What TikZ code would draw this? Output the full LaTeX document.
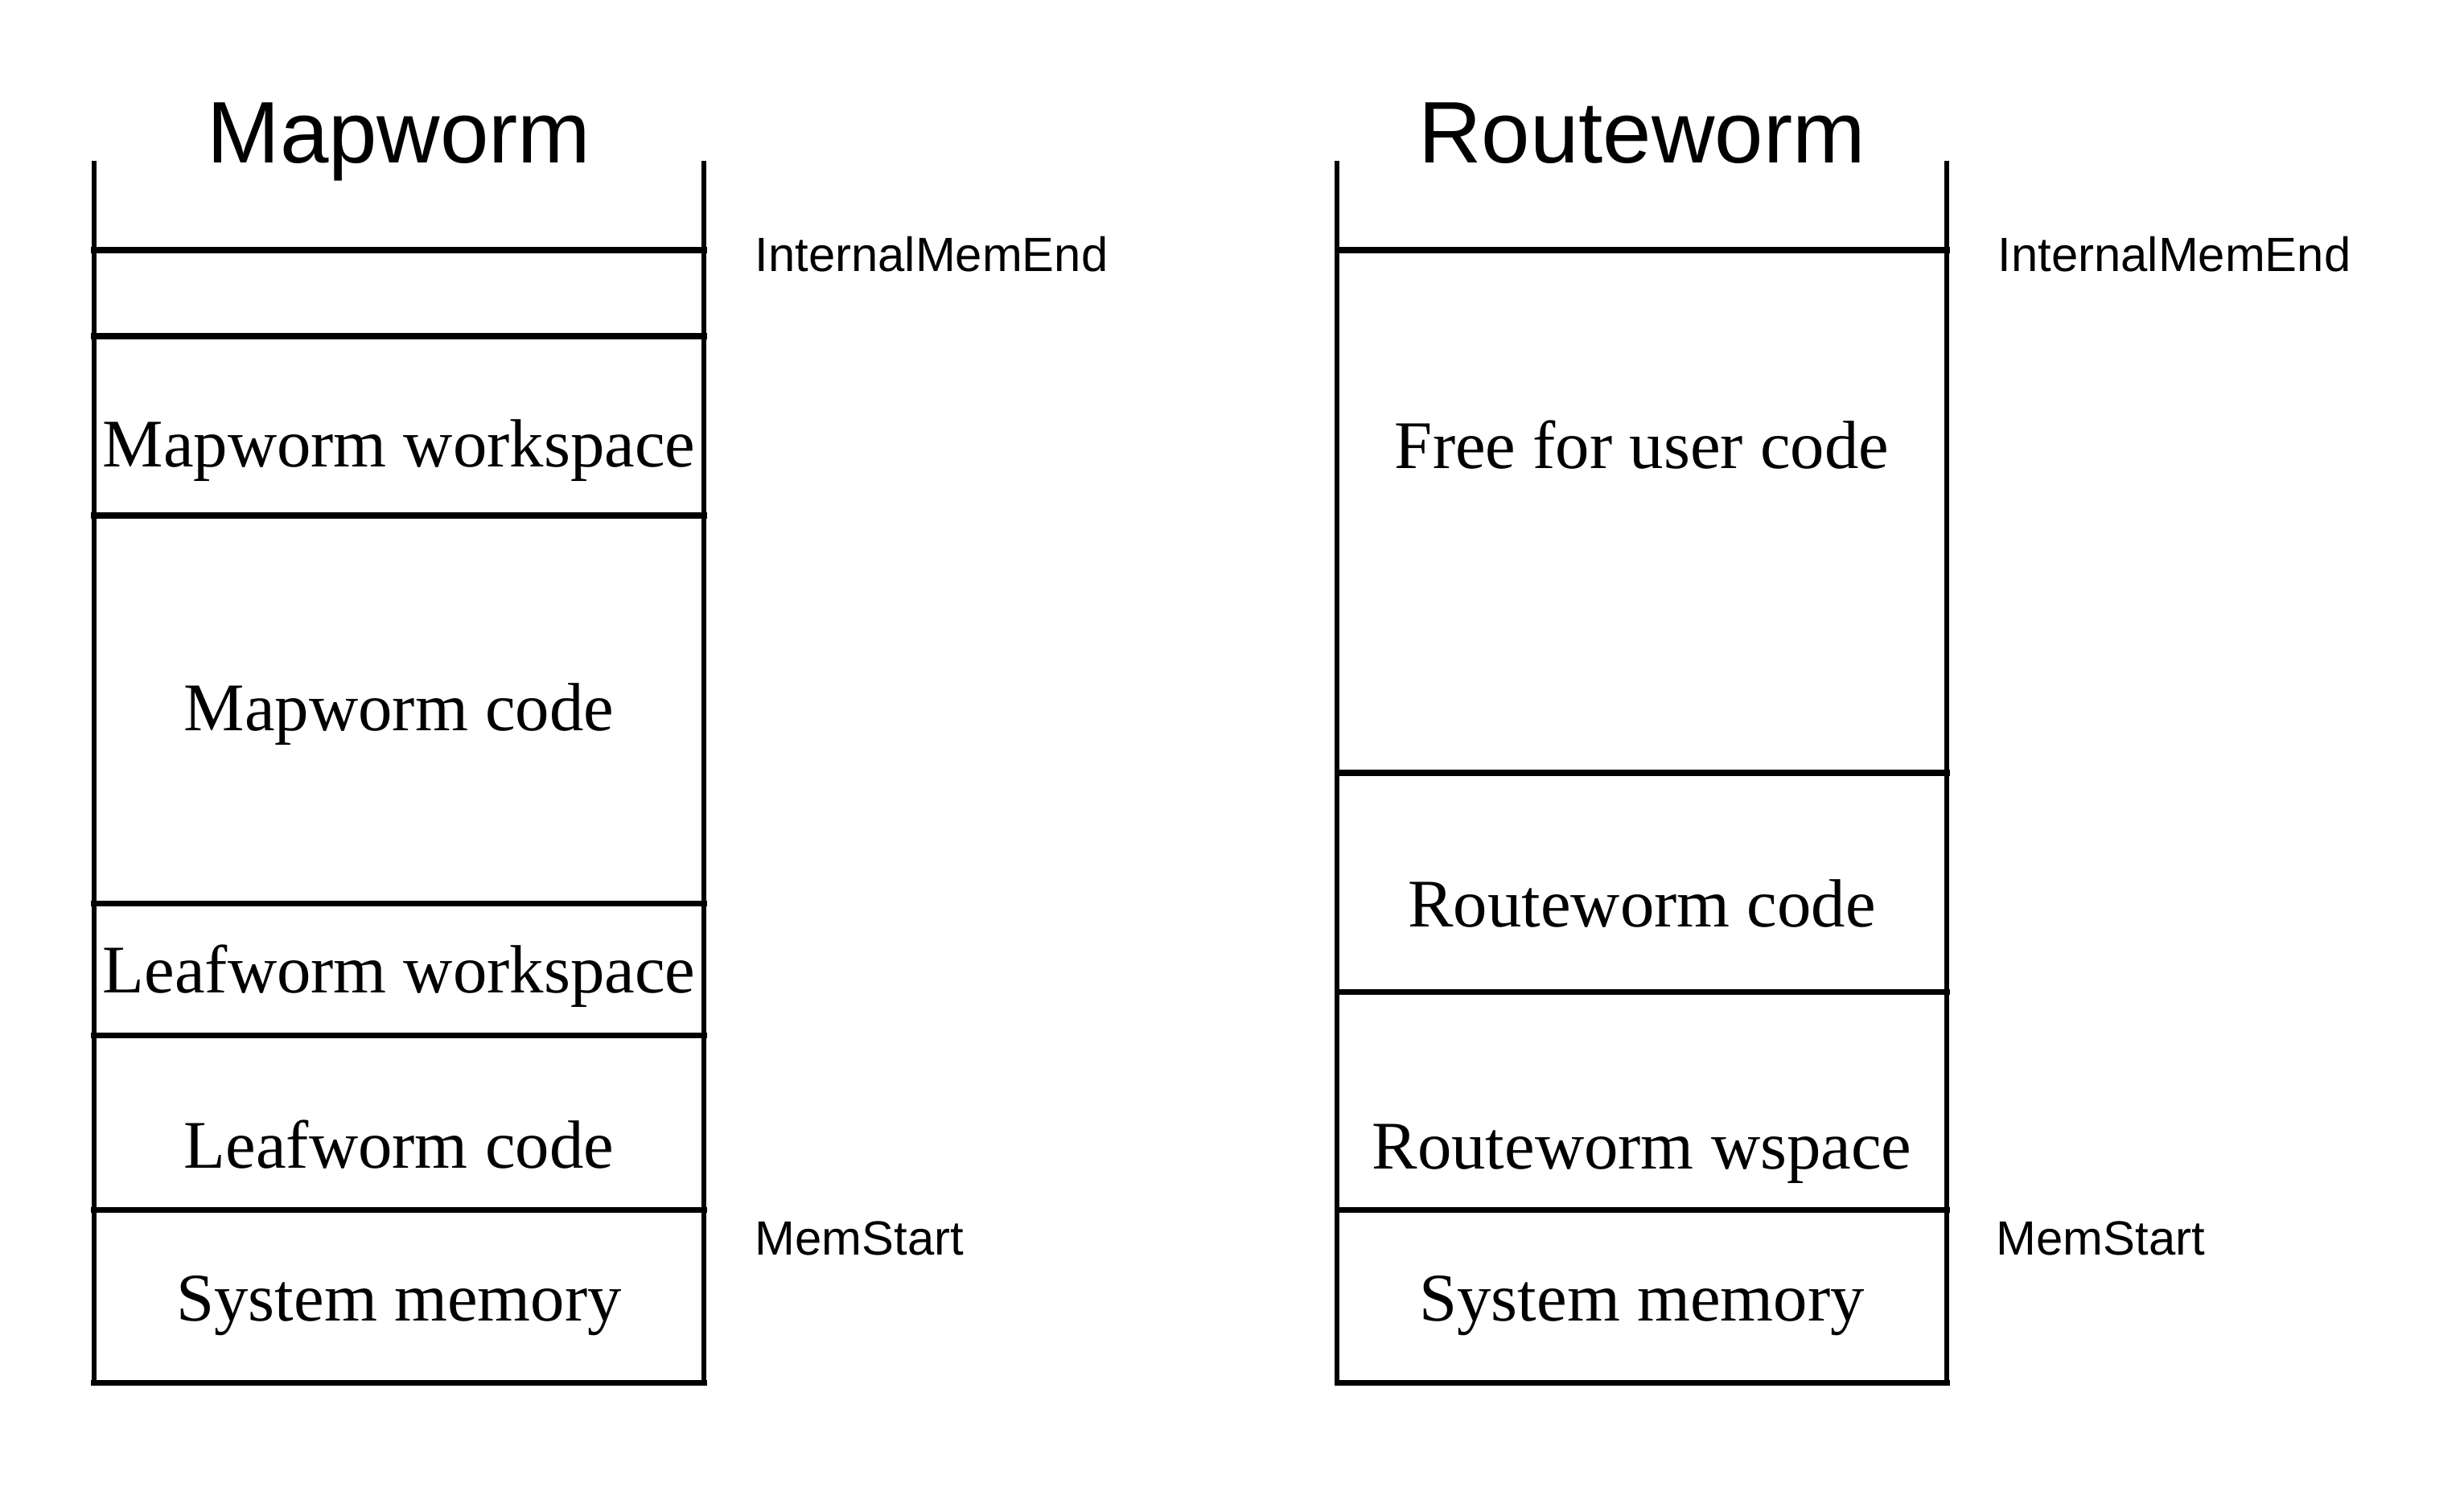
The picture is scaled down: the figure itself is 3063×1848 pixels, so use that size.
\documentclass[tikz,border=0pt]{standalone}
\usepackage{fontspec}
\setmainfont{Liberation Serif}
\newfontfamily\arialf{Liberation Sans}
\begin{document}
\begin{tikzpicture}[x=0.01cm,y=-0.01cm,
  hline/.style={line width=2pt, line cap=rect},
  vline/.style={line width=1.6pt, line cap=rect},
  title/.style={font=\arialf\fontsize{30.9pt}{36pt}\selectfont, anchor=base, inner sep=0pt},
  addr/.style={font=\arialf\fontsize{17pt}{20pt}\selectfont, anchor=base west, inner sep=0pt},
  region/.style={font=\fontsize{24.1pt}{28pt}\selectfont, anchor=base, inner sep=0pt}]
\useasboundingbox (0,0) rectangle (3063,1848);
% Mapworm column
\draw[vline] (117,203) -- (117,1719);
\draw[vline] (875,203) -- (875,1719);
\foreach \yy in {311,418,641,1123,1287,1504,1719}
  \draw[hline] (117,\yy) -- (875,\yy);
% Routeworm column
\draw[vline] (1662,203) -- (1662,1719);
\draw[vline] (2420,203) -- (2420,1719);
\foreach \yy in {311,961,1233,1504,1719}
  \draw[hline] (1662,\yy) -- (2420,\yy);
% titles
\node[title] (t1) at (496,202) {Mapworm};
\node[title] (t2) at (2041,202) {Routeworm};
% address labels
\node[addr] (ime1) at (938,337) {InternalMemEnd};
\node[addr] (ms1) at (938,1560) {MemStart};
\node[addr] (ime2) at (2483,337) {InternalMemEnd};
\node[addr] (ms2) at (2481,1560) {MemStart};
% region labels left
\node[region] (mws) at (496,580) {Mapworm workspace};
\node[region] (mc) at (496,908) {Mapworm code};
\node[region] (lws) at (496,1234) {Leafworm workspace};
\node[region] (lc) at (496,1452) {Leafworm code};
\node[region] (sm1) at (496,1642) {System memory};
% region labels right
\node[region] (free) at (2041,582) {Free for user code};
\node[region] (rc) at (2041,1152) {Routeworm code};
\node[region] (rws) at (2041,1453) {Routeworm wspace};
\node[region] (sm2) at (2041,1642) {System memory};
\end{tikzpicture}
\end{document}
